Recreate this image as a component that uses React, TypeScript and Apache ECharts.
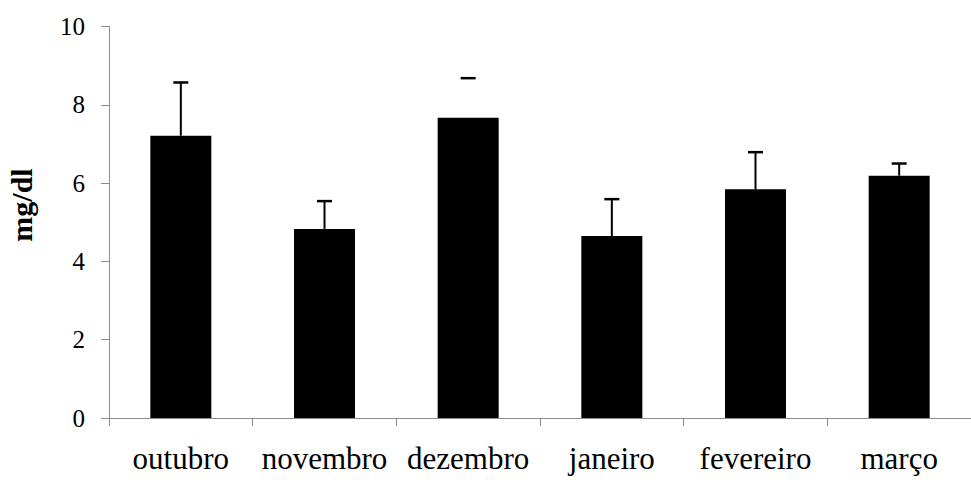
import React, { useEffect, useRef } from "react";
import * as echarts from "echarts";

const categories = ["outubro", "novembro", "dezembro", "janeiro", "fevereiro", "março"];
const means = [7.21, 4.83, 7.67, 4.65, 5.84, 6.19];
const errorTops = [8.57, 5.54, 8.68, 5.59, 6.79, 6.5];
const stemShown = [true, true, false, true, true, true];
const yTicks = [0, 2, 4, 6, 8, 10];
const yAxisTitle = "mg/dl";

export default function App() {
  const ref = useRef<HTMLDivElement>(null);
  useEffect(() => {
    if (!ref.current) return;
    const chart = echarts.init(ref.current, null, { renderer: "svg" });
    const font = "'Liberation Serif', 'Times New Roman', serif";
    chart.setOption({
      animation: false,
      backgroundColor: "#ffffff",
      grid: { left: 109, right: -9, top: 26.5, bottom: 62, containLabel: false },
      xAxis: {
        type: "category",
        data: categories,
        boundaryGap: true,
        axisLine: { show: true, lineStyle: { color: "#8c8c8c", width: 1 } },
        axisTick: { show: true, length: 8, inside: false, lineStyle: { color: "#8c8c8c" } },
        axisLabel: { color: "#000", fontFamily: font, fontSize: 31, margin: 25, interval: 0 },
        splitLine: { show: false },
      },
      yAxis: {
        type: "value",
        min: yTicks[0],
        max: yTicks[yTicks.length - 1],
        interval: 2,
        axisLine: { show: true, lineStyle: { color: "#8c8c8c", width: 1 } },
        axisTick: { show: true, length: 8, inside: false, lineStyle: { color: "#8c8c8c" } },
        axisLabel: { color: "#000", fontFamily: font, fontSize: 25, margin: 24 },
        splitLine: { show: false },
      },
      graphic: [
        {
          type: "text",
          x: 21,
          y: 205,
          rotation: Math.PI / 2,
          style: {
            text: yAxisTitle,
            font: `bold 30px ${font}`,
            fill: "#000",
            align: "center",
            verticalAlign: "middle",
          },
        },
      ],
      series: [
        {
          type: "bar",
          data: means,
          barWidth: 61,
          itemStyle: { color: "#000" },
          z: 2,
        },
        {
          type: "custom",
          z: 3,
          data: categories.map((c, i) => [i, means[i], errorTops[i], stemShown[i] ? 1 : 0]),
          renderItem: (params: any, api: any) => {
            const idx = api.value(0);
            const base = api.coord([idx, api.value(1)]);
            const top = api.coord([idx, api.value(2)]);
            const half = 7.5;
            const children: any[] = [
              {
                type: "line",
                shape: { x1: top[0] - half, y1: top[1], x2: top[0] + half, y2: top[1] },
                style: { stroke: "#000", lineWidth: 2.5 },
              },
            ];
            if (api.value(3)) {
              children.push({
                type: "line",
                shape: { x1: top[0], y1: top[1], x2: base[0], y2: base[1] },
                style: { stroke: "#000", lineWidth: 2 },
              });
            }
            return { type: "group", children };
          },
        },
      ],
    });
    return () => chart.dispose();
  }, []);
  return (
    <div
      ref={ref}
      style={{ position: "fixed", left: 0, top: 0, width: 971, height: 480, background: "#fff" }}
    />
  );
}
